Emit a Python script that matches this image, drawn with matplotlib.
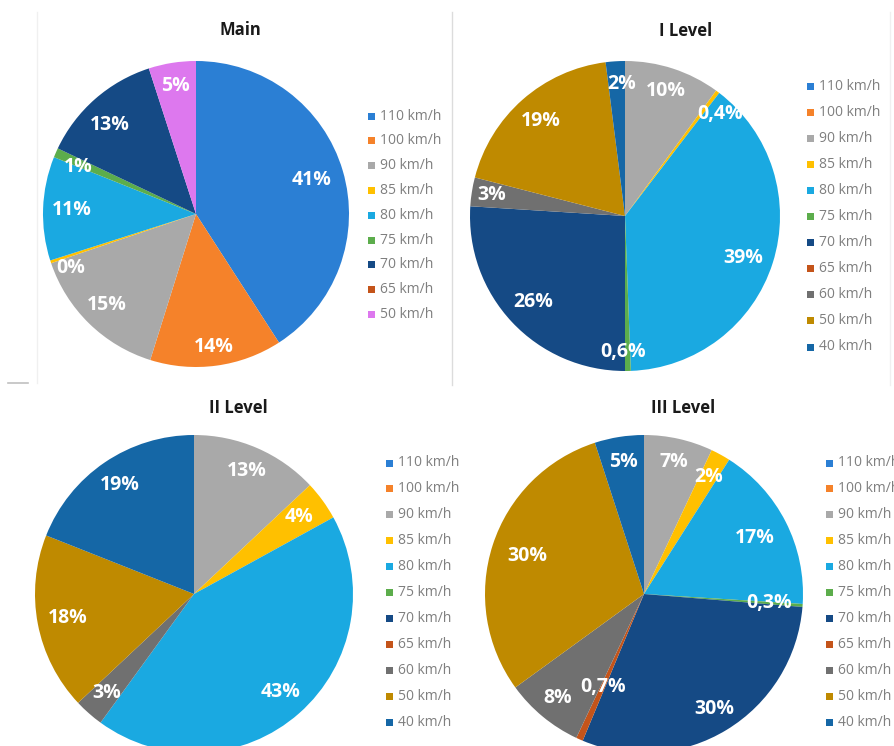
import matplotlib
matplotlib.use("Agg")
import matplotlib.pyplot as plt
from matplotlib.patches import Rectangle
import numpy as np

W, H = 895, 746

# speed classes and colours
speeds = ["110 km/h", "100 km/h", "90 km/h", "85 km/h", "80 km/h", "75 km/h",
          "70 km/h", "65 km/h", "60 km/h", "50 km/h", "40 km/h"]
speed_colors = ["#2b7fd4", "#f5822a", "#a9a9a9", "#ffc000", "#1aa9e1", "#5cad4c",
                "#154a85", "#c4541a", "#707070", "#bf8a00", "#1567a6"]

# Main chart (no 60 / 40 km/h, 50 km/h drawn in violet)
main_speeds = ["110 km/h", "100 km/h", "90 km/h", "85 km/h", "80 km/h", "75 km/h",
               "70 km/h", "65 km/h", "50 km/h"]
main_values = [41, 14, 15, 0.3, 11, 1, 13, 0, 5]
main_color_50 = "#dd78ee"

# levels, same order as `speeds`
level1_values = [0, 0, 10, 0.4, 39, 0.6, 26, 0, 3, 19, 2]
level2_values = [0, 0, 13, 4, 43, 0, 0, 0, 3, 18, 19]
level3_values = [0, 0, 7, 2, 17, 0.3, 30, 0.7, 8, 30, 5]

# label distance from centre (fraction of radius), per slice
main_label_r = [0.79, 0.88, 0.83, 0.89, 0.81, 0.83, 0.81, 0.8, 0.85]
level1_label_r = [0.8, 0.8, 0.85, 0.9, 0.81, 0.88, 0.81, 0.8, 0.87, 0.82, 0.85]
level2_label_r = [0.8, 0.8, 0.84, 0.82, 0.82, 0.8, 0.8, 0.8, 0.83, 0.81, 0.83]
level3_label_r = [0.8, 0.8, 0.85, 0.84, 0.78, 0.79, 0.85, 0.64, 0.85, 0.77, 0.84]
# small angular nudges for crowded labels (degrees, clockwise)
main_label_da = [0, 0, 0, -5, 0, -2, -3, 0, 0]
level1_label_da = [0, 0, 0, 6, 2, 2, 0, 0, 0, 0, 2]

FONT = ["Open Sans", "DejaVu Sans"]


def fmt(v, decimals):
    if decimals and v < 1:
        return f"{v:.1f}".replace(".", ",") + "%"
    return f"{v:.0f}%"


def draw_pie(fig, cx, cy, r, values, colors, label_r, decimals, label_da=None):
    ax = fig.add_axes([(cx - r) / W, (H - cy - r) / H, 2 * r / W, 2 * r / H])
    wedges, _ = ax.pie(values, colors=colors, startangle=90, counterclock=False,
                       radius=1.0, wedgeprops=dict(linewidth=0))
    for w in wedges:
        w.set_clip_on(False)
    if label_da is None:
        label_da = [0] * len(values)
    total = float(sum(values))
    start = 0.0
    for v, lr, da in zip(values, label_r, label_da):
        if v > 0:
            mid = (start + v / 2) / total * 2 * np.pi + np.radians(da)
            x, y = lr * np.sin(mid), lr * np.cos(mid)
            ax.text(x, y, fmt(v, decimals), color="white", fontsize=14,
                    fontweight="bold", family=FONT, ha="center", va="center")
        start += v
    ax.set_xlim(-1, 1)
    ax.set_ylim(-1, 1)
    ax.set_aspect("auto")
    ax.axis("off")


def draw_legend(ov, x, y0, step, labels, colors):
    for i, (lab, c) in enumerate(zip(labels, colors)):
        y = y0 + i * step
        ov.add_patch(Rectangle((x, y - 3.5), 7, 7, facecolor=c, edgecolor="none"))
        ov.text(x + 12, y, lab, fontsize=10, color="#7f7f7f", family=FONT,
                ha="left", va="center")


fig = plt.figure(figsize=(W / 100, H / 100), dpi=100)

ov = fig.add_axes([0, 0, 1, 1])
ov.set_xlim(0, W)
ov.set_ylim(H, 0)
ov.axis("off")

# faint panel borders
ov.plot([452, 452], [12, 385], color="#dcdcdc", lw=1)
ov.plot([37, 37], [12, 383], color="#f0f0f0", lw=1)
ov.plot([890, 890], [12, 385], color="#f0f0f0", lw=1)
ov.plot([8, 28], [383, 383], color="#c0c0c0", lw=1.2)

main_colors = [speed_colors[speeds.index(s)] for s in main_speeds]
main_colors[-1] = main_color_50

draw_pie(fig, 196, 214, 153, main_values, main_colors, main_label_r, False, main_label_da)
draw_pie(fig, 625, 216, 155, level1_values, speed_colors, level1_label_r, True, level1_label_da)
draw_pie(fig, 194, 594, 159, level2_values, speed_colors, level2_label_r, True)
draw_pie(fig, 644, 594, 159, level3_values, speed_colors, level3_label_r, True)

titles = [("Main", 240, 30), ("I Level", 686, 31),
          ("II Level", 238, 408), ("III Level", 683, 408)]
for t, x, y in titles:
    ov.text(x, y, t, fontsize=12, fontweight="bold", family=FONT,
            color="#1a1a1a", ha="center", va="center")

draw_legend(ov, 368, 116, 24.8, main_speeds, main_colors)
draw_legend(ov, 807, 86, 26.1, speeds, speed_colors)
draw_legend(ov, 386, 463, 25.9, speeds, speed_colors)
draw_legend(ov, 826, 463, 25.9, speeds, speed_colors)

fig.savefig("out.png", dpi=100)
